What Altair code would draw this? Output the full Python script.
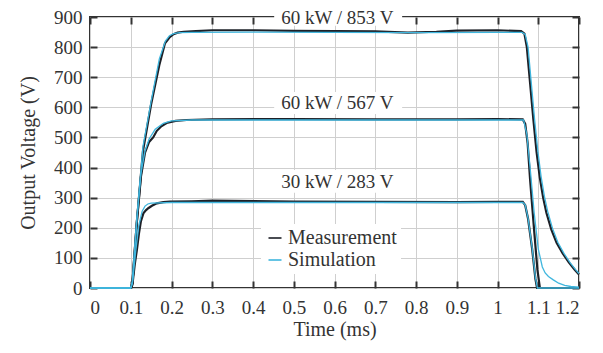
import altair as alt
import pandas as pd

# ---------------- data ----------------
t_m853 = [0, 0.1, 0.104, 0.115, 0.13, 0.15, 0.17, 0.184, 0.195, 0.205, 0.215, 0.23, 0.26, 0.3, 0.4, 0.5,
          0.6, 0.7, 0.78, 0.85, 0.9, 1.0, 1.058, 1.066, 1.072, 1.08, 1.088, 1.096, 1.104, 1.112, 1.12,
          1.132, 1.145, 1.16, 1.175, 1.19, 1.2]
v_m853 = [0, 0, 15, 220, 455, 610, 740, 813, 832, 843, 848, 851, 853, 856, 856, 854,
          853, 852, 848, 851, 855, 856, 853, 845, 800, 680, 560, 450, 365, 300, 250,
          195, 150, 115, 85, 60, 45]

t_s853 = [0, 0.1, 0.104, 0.115, 0.13, 0.15, 0.17, 0.185, 0.195, 0.205, 0.22, 0.25, 0.4, 0.6, 0.8, 1.0,
          1.06, 1.068, 1.075, 1.083, 1.091, 1.099, 1.107, 1.115, 1.123, 1.135, 1.148, 1.163, 1.178, 1.192, 1.2]
v_s853 = [0, 0, 20, 230, 470, 620, 760, 820, 838, 845, 848, 849, 850, 849, 848, 849,
          849, 842, 800, 680, 560, 455, 370, 305, 255, 198, 152, 115, 84, 60, 48]

t_m567 = [0, 0.1, 0.104, 0.115, 0.125, 0.135, 0.145, 0.155, 0.164, 0.175, 0.188, 0.21, 0.237, 0.3, 0.5,
          0.7, 0.9, 1.0, 1.062, 1.068, 1.074, 1.08, 1.09, 1.098, 1.104, 1.2]
v_m567 = [0, 0, 15, 220, 370, 450, 485, 500, 522, 537, 548, 555, 558, 560, 561,
          560, 560, 561, 560, 545, 480, 360, 190, 60, 0, 0]

t_s567 = [0, 0.1, 0.104, 0.115, 0.125, 0.135, 0.145, 0.16, 0.18, 0.2, 0.25, 1.064, 1.072, 1.08, 1.09,
          1.1, 1.11, 1.117, 1.125, 1.137, 1.15, 1.165, 1.18, 1.2]
v_s567 = [0, 0, 20, 230, 380, 455, 495, 527, 547, 555, 558, 558, 510, 400, 250,
          130, 70, 50, 38, 27, 16, 9, 5, 3]

t_m283 = [0, 0.1, 0.104, 0.11, 0.115, 0.12, 0.125, 0.131, 0.137, 0.143, 0.152, 0.164, 0.18, 0.196, 0.25,
          0.3, 0.5, 0.7, 0.9, 1.0, 1.062, 1.068, 1.075, 1.085, 1.093, 1.097, 1.2]
v_m283 = [0, 0, 10, 80, 126, 180, 222, 248, 258, 265, 273, 281, 285, 287, 288,
          290, 287, 286, 285, 286, 286, 275, 230, 130, 30, 0, 0]

t_s283 = [0, 0.1, 0.104, 0.112, 0.12, 0.128, 0.135, 0.142, 0.15, 0.2, 1.062, 1.068, 1.075, 1.085, 1.093,
          1.098, 1.2]
v_s283 = [0, 0, 15, 120, 210, 255, 272, 279, 282, 284, 284, 276, 232, 135, 35, 0, 0]

series_names = ["Measurement", "Simulation"]
series_colors = ["#1d2027", "#3fb6de"]

x_ticks = [0, 0.1, 0.2, 0.3, 0.4, 0.5, 0.6, 0.7, 0.8, 0.9, 1.0, 1.1, 1.2]
y_ticks = [0, 100, 200, 300, 400, 500, 600, 700, 800, 900]

ann_text = ["60 kW / 853 V", "60 kW / 567 V", "30 kW / 283 V"]
ann_x = [0.607, 0.607, 0.607]
ann_y = [877, 594, 332]
box_x1 = [0.452, 0.452, 0.452]
box_x2 = [0.766, 0.766, 0.766]
box_y1 = [871, 578, 316]
box_y2 = [960, 651, 392]

# ---------------- tables ----------------
rows = []
for name, case, ts, vs in [
    ("Measurement", "853", t_m853, v_m853),
    ("Measurement", "567", t_m567, v_m567),
    ("Measurement", "283", t_m283, v_m283),
    ("Simulation", "853", t_s853, v_s853),
    ("Simulation", "567", t_s567, v_s567),
    ("Simulation", "283", t_s283, v_s283),
]:
    for i, (t, v) in enumerate(zip(ts, vs)):
        rows.append({"t": t, "v": v, "series": name, "curve": name + case, "order": i})
df = pd.DataFrame(rows)
ann = pd.DataFrame({"text": ann_text, "x": ann_x, "y": ann_y,
                    "bx1": box_x1, "bx2": box_x2, "by1": box_y1, "by2": box_y2})

FONT = "Liberation Serif"
INK = "#333333"

xscale = alt.Scale(domain=[0, 1.2], nice=False)
yscale = alt.Scale(domain=[0, 900], nice=False)
color = alt.Color("series:N",
                  scale=alt.Scale(domain=series_names, range=series_colors),
                  legend=alt.Legend(title=None, orient="none", legendX=171, legendY=207,
                                    symbolType="stroke", symbolSize=169, symbolStrokeWidth=1.6,
                                    labelFont=FONT, labelFontSize=20, labelColor=INK,
                                    labelOffset=3, rowPadding=2, padding=4,
                                    fillColor="white"))

def tick_axis(orient):
    return alt.Axis(orient=orient, offset=-7, tickSize=7, tickWidth=2, tickColor=INK,
                    labels=False, domain=False, grid=False, title=None)

meas = alt.Chart(df[df.series == "Measurement"]).mark_line(strokeWidth=2.2).encode(
    x=alt.X("t:Q", scale=xscale,
            axis=alt.Axis(orient="bottom", values=x_ticks, format=".1~f", ticks=False, domain=False,
                          grid=True, gridColor="#cfcfcf", gridWidth=1,
                          labelPadding=10, title="Time (ms)", titlePadding=2)),
    y=alt.Y("v:Q", scale=yscale,
            axis=alt.Axis(orient="left", values=y_ticks, format="d", ticks=False, domain=False,
                          grid=True, gridColor="#cfcfcf", gridWidth=1,
                          labelPadding=8, title="Output Voltage (V)", titlePadding=15)),
    color=color,
    detail="curve:N",
    order="order:Q",
)

sim = alt.Chart(df[df.series == "Simulation"]).mark_line(strokeWidth=1.3).encode(
    x=alt.X("t:Q", scale=xscale, axis=tick_axis("bottom")),
    y=alt.Y("v:Q", scale=yscale, axis=tick_axis("left")),
    color=color,
    detail="curve:N",
    order="order:Q",
)

boxes = alt.Chart(ann).mark_rect(color="white").encode(
    x=alt.X("bx1:Q", scale=xscale, axis=tick_axis("top")),
    x2="bx2:Q",
    y=alt.Y("by1:Q", scale=yscale, axis=tick_axis("right")),
    y2="by2:Q",
)

labels = alt.Chart(ann).mark_text(font=FONT, fontSize=19, color=INK, align="center",
                                  baseline="alphabetic").encode(
    x=alt.X("x:Q", scale=xscale, axis=None),
    y=alt.Y("y:Q", scale=yscale, axis=None),
    text="text:N",
)

chart = alt.layer(meas, sim, boxes, labels).resolve_axis(
    x="independent", y="independent"
).properties(
    width=489, height=271,
    padding={"left": 82, "top": 9, "right": 16, "bottom": 57},
    autosize=alt.AutoSizeParams(type="none"),
).configure_view(
    stroke=INK, strokeWidth=2
).configure_axis(
    labelFont=FONT, labelFontSize=19, labelColor=INK,
    titleFont=FONT, titleFontSize=20, titleColor=INK, titleFontWeight="normal",
)

chart.save("out.html", embed_options={"renderer": "svg", "actions": False})
